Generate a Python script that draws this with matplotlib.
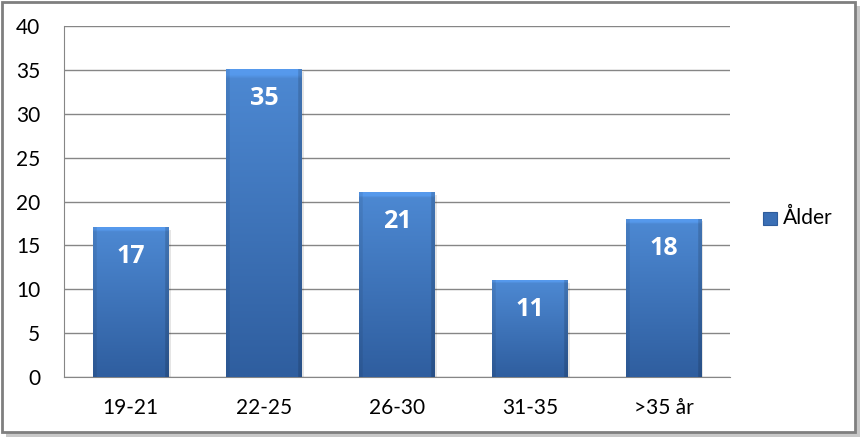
import numpy as np
import matplotlib
matplotlib.use("Agg")
import matplotlib.pyplot as plt
from matplotlib.patches import Rectangle

categories = ["19-21", "22-25", "26-30", "31-35", ">35 år"]
values = [17, 35, 21, 11, 18]
series_name = "Ålder"
yticks = [0, 5, 10, 15, 20, 25, 30, 35, 40]

plt.rcParams["font.family"] = ["Lato", "DejaVu Sans"]

TOP = np.array([0x4d, 0x89, 0xd3]) / 255
BOTTOM = np.array([0x2f, 0x5e, 0x9f]) / 255


def bar_gradient(n=80):
    # vertical: light at top, darker at bottom; thin bevel at edges
    t = np.linspace(0, 1, n)[:, None, None]
    col = TOP[None, None, :] * (1 - t) + BOTTOM[None, None, :] * t
    col = np.repeat(col, n, axis=1)
    x = np.linspace(0, 1, n)
    shade = np.ones(n)
    shade[x < 0.05] = 0.92
    shade[x > 0.95] = 0.85
    col = col * shade[None, :, None]
    col[:2] = np.minimum(col[:2] * 1.12, 1)
    return np.clip(col, 0, 1)


fig = plt.figure(figsize=(8.6, 4.37), dpi=100)
ax = fig.add_axes([0.0744, 0.1373, 0.7746, 0.8032])

x = np.arange(len(categories))
bars = ax.bar(x, values, width=0.57, color="#3a6fb5", zorder=3)
grad = bar_gradient()
for b, v in zip(bars, values):
    x0, w, h = b.get_x(), b.get_width(), b.get_height()
    # soft shadow
    ax.add_patch(Rectangle((x0 + 0.015, -0.25), w, h, color="#000000", alpha=0.10,
                           zorder=2, lw=0))
    ax.imshow(grad, extent=[x0, x0 + w, 0, h], aspect="auto", zorder=3.5,
              interpolation="bilinear")
    ax.text(x0 + w / 2, h - 3.3, str(v), ha="center", va="center", color="white",
            fontsize=18, fontweight="bold", family=["Open Sans", "DejaVu Sans"],
            zorder=5)

ax.set_xlim(-0.5, len(categories) - 0.5)
ax.set_ylim(0, 40)
ax.set_yticks(yticks)
ax.set_xticks(x)
ax.set_xticklabels(categories)
ax.tick_params(axis="both", length=0, labelsize=15, colors="black")
ax.tick_params(axis="x", pad=15)
ax.tick_params(axis="y", pad=17)
ax.yaxis.grid(True, color="#868686", linewidth=1, zorder=0)
ax.set_axisbelow(True)
for s in ["top", "right"]:
    ax.spines[s].set_visible(False)
ax.spines["left"].set_color("#868686")
ax.spines["bottom"].set_color("#868686")

# legend
fig.patches.append(Rectangle((763 / 860, 1 - 225 / 437), 14 / 860, 13 / 437,
                             transform=fig.transFigure, facecolor="#3a6fb5",
                             edgecolor="#2e5c9c", lw=0.8))
fig.text(783 / 860, 1 - 218 / 437, series_name, fontsize=15, va="center", ha="left")

# chart frame with shadow
fig.patches.append(Rectangle((6 / 860, 0), 854 / 860, 1 - 6 / 437,
                             transform=fig.transFigure, facecolor="#c8c8c8",
                             edgecolor="none", zorder=-3))
fig.patches.append(Rectangle((2 / 860, 5 / 437), 853 / 860, 1 - 7 / 437,
                             transform=fig.transFigure, facecolor="white",
                             edgecolor="#7f7f7f", lw=2, zorder=-2))

fig.savefig("out.png", dpi=100)
